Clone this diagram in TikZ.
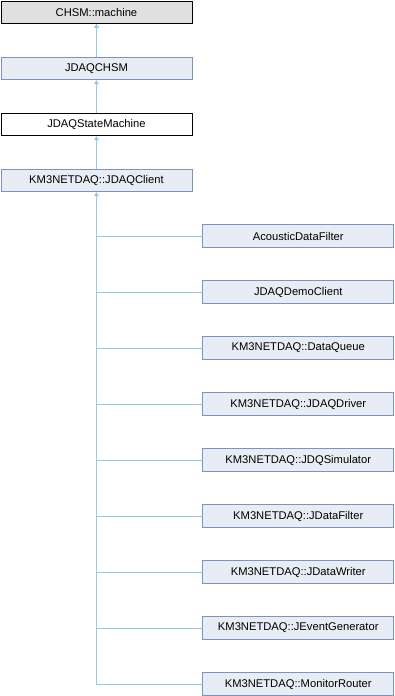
\documentclass[tikz,border=0pt]{standalone}
\usepackage{fontspec}
\setmainfont{Liberation Sans}
\usetikzlibrary{arrows.meta}
\definecolor{boxfill}{RGB}{232,236,245}
\definecolor{boxdraw}{RGB}{124,146,196}
\definecolor{linec}{RGB}{150,200,235}
\definecolor{grayfill}{RGB}{224,224,224}
\begin{document}
\begin{tikzpicture}[x=1pt,y=-1pt,
  cls/.style={draw=boxdraw,fill=boxfill,line width=0.9pt,minimum width=191pt,minimum height=22.5pt,inner sep=0pt,font=\fontsize{11.2}{13}\selectfont,anchor=north west},
  base/.style={cls,draw=black,fill=grayfill},
  plain/.style={cls,draw=black,fill=white},
  inh/.style={draw=linec,line width=0.9pt,{Triangle[length=4pt,width=5pt]}-},
  lnk/.style={draw=linec,line width=0.9pt}]
\useasboundingbox (0,0) rectangle (394,696);
\node[base]  (m)  at (0.5,0.5)   {CHSM::machine};
\node[cls]   (ch) at (0.5,56.8)  {JDAQCHSM};
\node[plain] (sm) at (0.5,112.8) {JDAQStateMachine};
\node[cls]   (cl) at (0.5,168.8) {KM3NETDAQ::JDAQClient};
\foreach \n/\t [count=\i from 0] in {a/AcousticDataFilter,b/JDAQDemoClient,c/KM3NETDAQ::DataQueue,d/KM3NETDAQ::JDAQDriver,e/KM3NETDAQ::JDQSimulator,f/KM3NETDAQ::JDataFilter,g/KM3NETDAQ::JDataWriter,h/KM3NETDAQ::JEventGenerator,k/KM3NETDAQ::MonitorRouter}{
  \node[cls] (\n) at (202.3,224.3+56*\i) {\t};
}
\draw[inh] (m.south) -- (ch.north);
\draw[inh] (ch.south) -- (sm.north);
\draw[inh] (sm.south) -- (cl.north);
\coordinate (top) at (cl.south);
\draw[inh] (top) -- (top |- k.west);
\foreach \n in {a,b,c,d,e,f,g,h,k}{
  \draw[lnk] (top |- \n.west) -- (\n.west);
}
\end{tikzpicture}
\end{document}
